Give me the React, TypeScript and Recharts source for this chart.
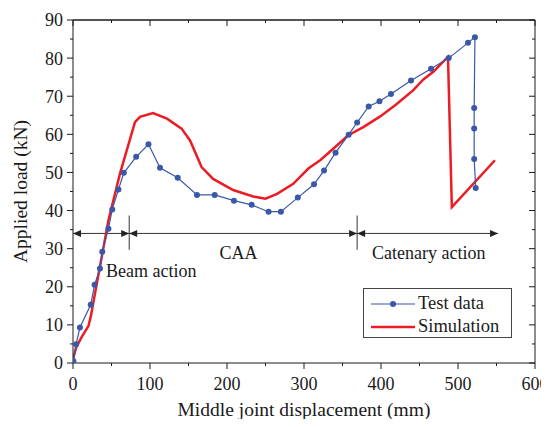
import React from 'react';
import {
  LineChart,
  Line,
  XAxis,
  YAxis,
  ReferenceLine,
  ReferenceDot,
  Legend,
} from 'recharts';

const FONT = '"Liberation Serif", "Times New Roman", serif';
const BLUE = '#3a58a8';
const RED = '#ec1c24';
const INK = '#1a1a1a';

// Test data (displacement mm, load kN)
const testX = [0.5, 4, 9, 23, 28, 35, 38, 46, 51, 59, 66, 82, 98, 113, 136, 161, 184, 209, 232, 254, 270, 292, 313, 326, 341, 358, 369, 384, 398, 413, 439, 465, 488, 513, 522, 521, 521, 521, 523];
const testY = [0.5, 4.9, 9.3, 15.3, 20.5, 24.8, 29.2, 35.2, 40.3, 45.5, 49.9, 54.1, 57.4, 51.2, 48.6, 44.1, 44.1, 42.6, 41.5, 39.7, 39.7, 43.4, 46.9, 50.5, 55.2, 59.9, 63.1, 67.3, 68.7, 70.6, 74.1, 77.2, 80, 84, 85.5, 66.9, 61.5, 53.5, 45.9];

// Simulation curve
const simX = [0, 4, 11, 20, 23, 26, 46, 61, 80.5, 87, 104, 122, 141, 152, 167, 182, 208, 234, 250, 265, 286, 306, 321, 338, 357, 377, 399, 420, 442, 455, 468, 485, 487, 492, 548];
const simY = [1, 4, 6.7, 9.7, 12.1, 15.4, 37.4, 49.7, 63.2, 64.6, 65.6, 64.1, 61.5, 58.4, 51.4, 48.3, 45.4, 43.7, 43.1, 44.4, 47, 51.1, 53.2, 56.2, 59.7, 61.9, 64.7, 67.9, 71.6, 74.4, 76.4, 79.9, 80.3, 40.9, 53.2];

const X_MAX = 600;
const Y_MAX = 90;
const xMajor = [0, 100, 200, 300, 400, 500, 600];
const xMinor = [50, 150, 250, 350, 450, 550];
const yMajor = [0, 10, 20, 30, 40, 50, 60, 70, 80, 90];
const yMinor = [5, 15, 25, 35, 45, 55, 65, 75, 85];

// Stage annotations
const stageBounds = [0, 73, 369, 552];
const stageNames = ['Beam action', 'CAA', 'Catenary action'];
const stageLabelX = [43, 215, 462];
const arrowY = 34;
const dividerY = [29.7, 38.7];
const stageLabelY = [24.2, 28.9, 28.9];

const testData = testX.map((x, i) => ({ x, y: testY[i] }));
const simData = simX.map((x, i) => ({ x, y: simY[i] }));
const xTicks = [...xMajor, ...xMinor].sort((a, b) => a - b);
const yTicks = [...yMajor, ...yMinor].sort((a, b) => a - b);

const MINOR = 3;
const MAJOR = 6;
const XMARGIN = 11;
const YMARGIN = 7;

// tick renderer: recharts draws the short (minor) tick line, majors get extended here
function makeTick(side: 'bottom' | 'left' | 'right', majors: number[], margin: number, labels: boolean) {
  return (props: any) => {
    const { x, y, payload } = props;
    const major = majors.includes(payload.value);
    let ext = null;
    let label = null;
    if (side === 'bottom') {
      const ay = y - MINOR - margin;
      if (major) ext = <line x1={x} y1={ay + MINOR} x2={x} y2={ay + MAJOR} stroke={INK} />;
      if (labels && major)
        label = (
          <text x={x} y={ay + MAJOR + 8} dy="0.71em" textAnchor="middle" fontSize={18} fontFamily={FONT} fill={INK}>
            {payload.value}
          </text>
        );
    } else if (side === 'left') {
      const ax = x + MINOR + margin;
      if (major) ext = <line x1={ax - MINOR} y1={y} x2={ax - MAJOR} y2={y} stroke={INK} />;
      if (labels && major)
        label = (
          <text x={ax - MAJOR - 4} y={y} dy="0.355em" textAnchor="end" fontSize={18} fontFamily={FONT} fill={INK}>
            {payload.value}
          </text>
        );
    } else {
      const ax = x + MINOR + margin;
      if (major) ext = <line x1={ax - MINOR} y1={y} x2={ax - MAJOR} y2={y} stroke={INK} />;
    }
    return (
      <g>
        {ext}
        {label}
      </g>
    );
  };
}

// top frame edge with inward ticks, drawn along a segment from (0, Y_MAX) to (X_MAX, Y_MAX)
function TopFrame(props: any) {
  const x1 = Number(props.x1);
  const x2 = Number(props.x2);
  const top = Number(props.y1);
  const left = Math.min(x1, x2);
  const span = Math.abs(x2 - x1);
  return (
    <g>
      <line x1={left} y1={top} x2={left + span} y2={top} stroke={INK} strokeWidth={1} />
      {xTicks.map((v) => {
        const px = left + (v / X_MAX) * span;
        const len = xMajor.includes(v) ? MAJOR : MINOR;
        return <line key={v} x1={px} y1={top} x2={px} y2={top + len} stroke={INK} strokeWidth={1} />;
      })}
    </g>
  );
}

function ArrowShape(props: any) {
  const { x1, y1, x2, y2 } = props;
  const h = 8;
  const w = 3.5;
  return (
    <g>
      <line x1={x1} y1={y1} x2={x2} y2={y2} stroke="#333" strokeWidth={1} />
      <path d={`M${x1},${y1} l${h},${-w} v${2 * w} z`} fill="#222" />
      <path d={`M${x2},${y2} l${-h},${-w} v${2 * w} z`} fill="#222" />
    </g>
  );
}

function LegendBox() {
  return (
    <div
      style={{
        border: '1px solid #444',
        background: '#fff',
        width: 147,
        height: 45,
        boxSizing: 'content-box',
        fontFamily: FONT,
        fontSize: 18.5,
        color: INK,
        paddingTop: 3,
      }}
    >
      <div style={{ display: 'flex', alignItems: 'center', height: 23 }}>
        <svg width={52} height={10} style={{ marginLeft: 7 }}>
          <line x1={0} y1={5} x2={44} y2={5} stroke={BLUE} strokeWidth={1.2} />
          <circle cx={22} cy={5} r={3} fill={BLUE} />
        </svg>
        <span style={{ marginLeft: -5 }}>Test data</span>
      </div>
      <div style={{ display: 'flex', alignItems: 'center', height: 23 }}>
        <svg width={52} height={10} style={{ marginLeft: 7 }}>
          <line x1={0} y1={5} x2={44} y2={5} stroke={RED} strokeWidth={2.5} />
        </svg>
        <span style={{ marginLeft: -5 }}>Simulation</span>
      </div>
    </div>
  );
}

export default function App() {
  return (
    <LineChart width={541} height={411} margin={{ top: 12, right: 14, bottom: 0, left: 10 }}>
      <XAxis
        xAxisId="x"
        type="number"
        dataKey="x"
        domain={[0, X_MAX]}
        ticks={xTicks}
        interval={0}
        allowDataOverflow
        height={56}
        tickSize={MINOR}
        tickMargin={XMARGIN}
        tick={makeTick('bottom', xMajor, XMARGIN, true)}
        stroke={INK}
        label={{ value: 'Middle joint displacement (mm)', position: 'insideBottom', offset: 3, fontSize: 19.5, fontFamily: FONT, fill: INK }}
      />
      <YAxis
        yAxisId="y"
        type="number"
        dataKey="y"
        domain={[0, Y_MAX]}
        ticks={yTicks}
        interval={0}
        allowDataOverflow
        width={55}
        tickSize={MINOR}
        tickMargin={YMARGIN}
        tick={makeTick('left', yMajor, YMARGIN, true)}
        stroke={INK}
        label={{ value: 'Applied load (kN)', angle: -90, position: 'insideLeft', offset: 2, fontSize: 19.5, fontFamily: FONT, fill: INK, style: { textAnchor: 'middle' } }}
      />
      <YAxis
        yAxisId="yr"
        orientation="right"
        mirror
        type="number"
        dataKey="y"
        domain={[0, Y_MAX]}
        ticks={yTicks}
        interval={0}
        width={20}
        tickSize={MINOR}
        tickMargin={YMARGIN}
        tick={makeTick('right', yMajor, YMARGIN, false)}
        stroke={INK}
      />

      {/* invisible series so the right frame axis gets a domain */}
      <Line
        xAxisId="x"
        yAxisId="yr"
        data={testData}
        dataKey="y"
        stroke="none"
        dot={false}
        activeDot={false}
        legendType="none"
        isAnimationActive={false}
      />

      {/* top frame: plain line plus a segment carrying the inward ticks */}
      <ReferenceLine xAxisId="x" yAxisId="y" y={Y_MAX} ifOverflow="visible" stroke={INK} strokeWidth={1} />
      <ReferenceLine
        xAxisId="x"
        yAxisId="y"
        ifOverflow="visible"
        segment={[
          { x: 0, y: Y_MAX },
          { x: X_MAX, y: Y_MAX },
        ]}
        shape={TopFrame}
      />

      {stageNames.map((name, i) => (
        <ReferenceLine
          key={`arrow-${name}`}
          xAxisId="x"
          yAxisId="y"
          segment={[
            { x: stageBounds[i], y: arrowY },
            { x: stageBounds[i + 1], y: arrowY },
          ]}
          shape={ArrowShape}
        />
      ))}
      {stageBounds.slice(1, 3).map((b) => (
        <ReferenceLine
          key={`div-${b}`}
          xAxisId="x"
          yAxisId="y"
          segment={[
            { x: b, y: dividerY[0] },
            { x: b, y: dividerY[1] },
          ]}
          stroke="#333"
          strokeWidth={1}
        />
      ))}
      {stageNames.map((name, i) => (
        <ReferenceDot
          key={`lbl-${name}`}
          xAxisId="x"
          yAxisId="y"
          x={stageLabelX[i]}
          y={stageLabelY[i]}
          r={0}
          fill="none"
          stroke="none"
          label={{ value: name, position: i === 0 ? 'right' : 'center', offset: 0, fontSize: 18, fontFamily: FONT, fill: INK }}
        />
      ))}

      <Line
        xAxisId="x"
        yAxisId="y"
        data={simData}
        dataKey="y"
        name="Simulation"
        type="linear"
        stroke={RED}
        strokeWidth={2.5}
        dot={false}
        isAnimationActive={false}
      />
      <Line
        xAxisId="x"
        yAxisId="y"
        data={testData}
        dataKey="y"
        name="Test data"
        type="linear"
        stroke={BLUE}
        strokeWidth={1.2}
        dot={{ r: 3, fill: BLUE, stroke: BLUE, strokeWidth: 0 }}
        isAnimationActive={false}
      />
      <Legend
        layout="vertical"
        align="center"
        verticalAlign="middle"
        content={() => <LegendBox />}
        wrapperStyle={{ left: 355, top: 280, width: 'auto', height: 'auto' }}
      />
    </LineChart>
  );
}
